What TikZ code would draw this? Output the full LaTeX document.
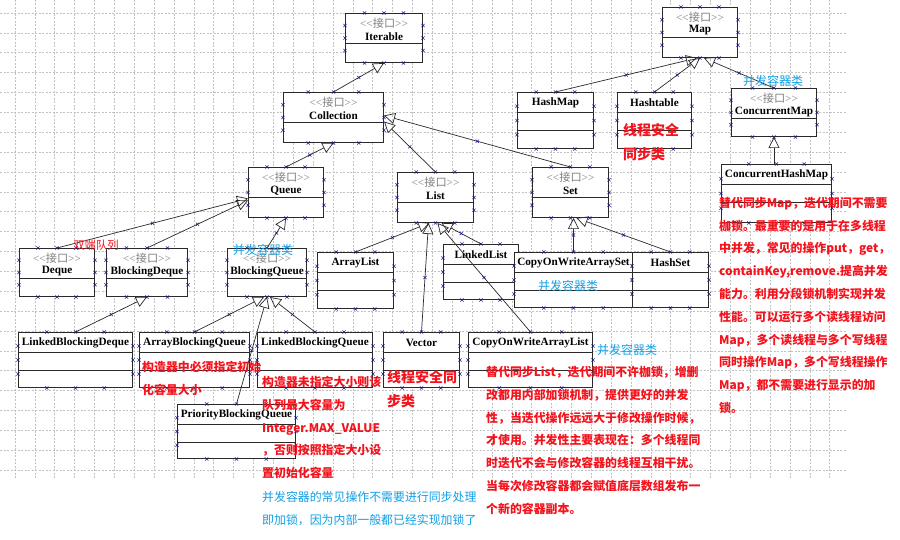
\documentclass[tikz,border=0pt]{standalone}
\usepackage{fontspec}
\setmainfont{Liberation Serif}
\newfontfamily\cjk{Noto Sans CJK SC}
\usetikzlibrary{arrows.meta,calc}

\definecolor{handleblue}{HTML}{1C1C8A}
\definecolor{boxline}{HTML}{2A2A2A}
\definecolor{gridgray}{HTML}{C2C2C2}
\definecolor{notered}{HTML}{F5121C}
\definecolor{noteblue}{HTML}{10A0E6}

\tikzset{
  umlbox/.style={draw=boxline, fill=white, line width=1pt, anchor=north west, inner sep=0pt},
  divider/.style={draw=boxline, line width=1pt},
  gen/.style={draw=boxline, line width=0.7pt, -{Triangle[open,length=11pt,width=11pt]}},
  gridline/.style={draw=gridgray, line width=0.5pt, dash pattern=on 2pt off 1.5pt},
  clsname/.style={inner sep=0pt, font=\bfseries\fontsize{11.2}{13}\selectfont},
  stereotype/.style={inner sep=0pt, text=gray, font=\fontsize{11.2}{13}\selectfont},
  rednote/.style={text=notered, anchor=north west, inner sep=0pt, align=left,
    font=\cjk\bfseries\fontsize{11.9}{22.8}\selectfont},
  bignote/.style={rednote, font=\cjk\bfseries\fontsize{14}{24}\selectfont},
  bluenote/.style={text=noteblue, anchor=north west, inner sep=0pt, align=left,
    font=\cjk\fontsize{11.9}{22.8}\selectfont},
  bluetag/.style={text=noteblue, inner sep=0pt, font=\cjk\fontsize{12}{14}\selectfont},
  hmark/.pic={\draw[handleblue, line width=0.45pt, -] (-1.6,-1.6) -- (1.6,1.6) (-1.6,1.6) -- (1.6,-1.6);}
}

\newcommand\stereo{<{}<{\cjk 接口}>{}>}
\newcommand\handles[1]{%
  \foreach \hq in {0.25,0.5,0.75}{%
    \pic at ($(#1.north west)!\hq!(#1.north east)$) {hmark};
    \pic at ($(#1.south west)!\hq!(#1.south east)$) {hmark};
    \pic at ($(#1.north west)!\hq!(#1.south west)$) {hmark};
    \pic at ($(#1.north east)!\hq!(#1.south east)$) {hmark};
  }}
\newcommand\iface[6]{%
  \node[umlbox, minimum width=#4pt, minimum height=#5pt] (#1) at (#2,#3) {};
  \draw[divider] ($(#1.north west)+(0,31)$) -- ($(#1.north east)+(0,31)$);
  \node[stereotype] (#1-st) at ($(#1.north)+(0,10)$) {\stereo};
  \node[clsname] (#1-nm) at ($(#1.north)+(0,23.5)$) {#6};
  \handles{#1}}
\newcommand\klass[6]{%
  \node[umlbox, minimum width=#4pt, minimum height=#5pt] (#1) at (#2,#3) {};
  \draw[divider] ($(#1.north west)+(0,20.5)$) -- ($(#1.north east)+(0,20.5)$);
  \draw[divider] ($(#1.north west)+(0,38.5)$) -- ($(#1.north east)+(0,38.5)$);
  \node[clsname] (#1-nm) at ($(#1.north)+(0,10.5)$) {#6};
  \handles{#1}}

\begin{document}
\begin{tikzpicture}[x=1pt,y=-1pt]
  \useasboundingbox (0,0) rectangle (900,540);
  \fill[white] (0,0) rectangle (900,540);
  \foreach \i in {0,...,41} \draw[gridline] (15+\i*19.87,0) -- (15+\i*19.87,478);
  \foreach \i in {0,...,23} \draw[gridline] (0,13+\i*19.87) -- (847,13+\i*19.87);

  \iface{iterable}{345}{13}{77}{49}{Iterable}
  \iface{collection}{283}{92}{100}{50}{Collection}
  \iface{map}{662}{7}{75}{50}{Map}
  \iface{cmap}{731}{88}{85}{48}{ConcurrentMap}
  \iface{queue}{248}{167}{75}{50}{Queue}
  \iface{list}{397}{172}{76}{50}{List}
  \iface{set}{532}{167}{76}{50}{Set}
  \iface{deque}{19}{248}{75}{48}{Deque}
  \iface{bdeque}{106}{248}{81}{48}{BlockingDeque}
  \iface{bqueue}{227}{248}{79}{48}{BlockingQueue}

  \klass{hashmap}{517}{92}{76}{56}{HashMap}
  \klass{hashtable}{617}{92}{74}{56}{Hashtable}
  \klass{chm}{721}{164}{110}{58}{ConcurrentHashMap}
  \klass{arraylist}{317}{252}{76}{56}{ArrayList}
  \klass{linkedlist}{443}{244}{75}{55}{LinkedList}
  \klass{cowas}{514}{252}{118}{55}{CopyOnWriteArraySet}
  \klass{hashset}{632}{252}{76}{55}{HashSet}
  \klass{lbd}{18}{332}{114}{55}{LinkedBlockingDeque}
  \klass{abq}{139}{332}{110}{55}{ArrayBlockingQueue}
  \klass{lbq}{257}{332}{115}{55}{LinkedBlockingQueue}
  \klass{vector}{383}{332}{76}{55}{Vector}
  \klass{cowal}{468}{332}{124}{55}{CopyOnWriteArrayList}
  \klass{pbq}{177}{404}{118}{54}{PriorityBlockingQueue}

  \draw[gen] (collection.north) -- (iterable.south) pic[pos=0.5]{hmark};
  \draw[gen] (queue.north) -- (collection.south) pic[pos=0.5]{hmark};
  \draw[gen] (list.north) -- ($(collection.east)+(0,4)$) pic[pos=0.5]{hmark};
  \draw[gen] (set.north) -- ($(collection.east)+(0,-2)$) pic[pos=0.5]{hmark};
  \draw[gen] (hashmap.north) -- ($(map.south)+(-3,0)$) pic[pos=0.5]{hmark};
  \draw[gen] (hashtable.north) -- (map.south) pic[pos=0.5]{hmark};
  \draw[gen] (cmap.north) -- ($(map.south)+(4,0)$) pic[pos=0.5]{hmark};
  \draw[gen] (cmap.south |- chm.north) -- (cmap.south);
  \draw[gen] (deque.north) -- ($(queue.west)+(0,6)$) pic[pos=0.5]{hmark};
  \draw[gen] (bdeque.north) -- ($(queue.west)+(0,8)$) pic[pos=0.5]{hmark};
  \draw[gen] (bqueue.north) -- (queue.south) pic[pos=0.5]{hmark};
  \draw[gen] (arraylist.north) -- ($(list.south)+(-6,0)$) pic[pos=0.5]{hmark};
  \draw[gen] (linkedlist.north) -- ($(list.south)+(6,0)$) pic[pos=0.5]{hmark};
  \draw[gen] (vector.north) -- ($(list.south)+(-7,0)$) pic[pos=0.5]{hmark};
  \draw[gen] (cowal.north) -- ($(list.south)+(2,0)$) pic[pos=0.5]{hmark};
  \draw[gen] (cowas.north) -- (cowas.north |- set.south) pic[pos=0.5]{hmark};
  \draw[gen] (hashset.north) -- ($(set.south)+(6,0)$) pic[pos=0.5]{hmark};
  \draw[gen] (lbd.north) -- (bdeque.south) pic[pos=0.5]{hmark};
  \draw[gen] (abq.north) -- ($(bqueue.south)+(-3,0)$) pic[pos=0.5]{hmark};
  \draw[gen] (lbq.north) -- ($(bqueue.south)+(3,0)$) pic[pos=0.5]{hmark};
  \draw[gen] (pbq.north) -- (bqueue.south) pic[pos=0.5]{hmark};

  \node[bluetag] (tag-cmap) at (773,81) {并发容器类};
  \node[bluetag] (tag-bqueue) at (263,250) {并发容器类};
  \node[bluetag] (tag-cowas) at (568,286) {并发容器类};
  \node[bluetag] (tag-cowal) at (627,350) {并发容器类};

  \node[text=notered, inner sep=0pt, font=\cjk\fontsize{11.3}{13}\selectfont] (n-deque) at (96,245) {双端队列};
  \node[bignote] (n-hashtable) at (623,123) {线程安全\\同步类};
  \node[bignote] (n-vector) at (387,370) {线程安全同\\步类};
  \node[rednote] (n-abq) at (142,361) {构造器中必须指定初始\\化容量大小};
  \node[rednote] (n-lbq) at (262,376) {构造器未指定大小则该\\队列最大容量为\\Integer.MAX\_VALUE\\，否则按照指定大小设\\置初始化容量};
  \node[bluenote] (n-common) at (262,491) {并发容器的常见操作不需要进行同步处理\\即加锁，因为内部一般都已经实现加锁了};
  \node[rednote] (n-cowal) at (486,366) {替代同步List，迭代期间不许枷锁，增删\\改都用内部加锁机制，提供更好的并发\\性，当迭代操作远远大于修改操作时候，\\才使用。并发性主要表现在：多个线程同\\时迭代不会与修改容器的线程互相干扰。\\当每次修改容器都会赋值底层数组发布一\\个新的容器副本。};
  \node[rednote] (n-chm) at (719,197) {替代同步Map，迭代期间不需要\\枷锁。最重要的是用于在多线程\\中并发，常见的操作put，get，\\containKey,remove.提高并发\\能力。利用分段锁机制实现并发\\性能。可以运行多个读线程访问\\Map，多个读线程与多个写线程\\同时操作Map，多个写线程操作\\Map，都不需要进行显示的加\\锁。};
\end{tikzpicture}
\end{document}
